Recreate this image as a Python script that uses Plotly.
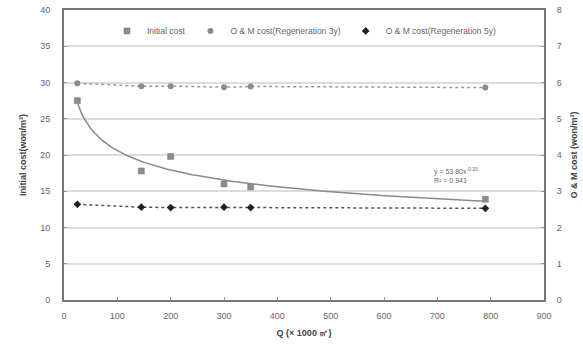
import numpy as np
import plotly.graph_objects as go

q = [25, 145, 200, 300, 350, 790]
initial_cost = [27.5, 17.8, 19.8, 16.0, 15.6, 13.9]
om_3y = [5.98, 5.9, 5.9, 5.87, 5.89, 5.86]
om_5y = [2.64, 2.56, 2.55, 2.56, 2.55, 2.53]

# power-law trendline fitted to initial cost data (log-log regression)
b, loga = np.polyfit(np.log(q), np.log(initial_cost), 1)
a = np.exp(loga)
xt = np.linspace(min(q), max(q), 200)
yt = a * xt ** b

grey_txt = "#666666"
sq = dict(symbol="square", size=6, color="#8c8c8c", line=dict(color="#777777", width=0.5))
ci = dict(symbol="circle", size=6, color="#8c8c8c")
di = dict(symbol="diamond", size=6, color="#222222")

fig = go.Figure()
fig.add_trace(go.Scatter(x=q, y=initial_cost, mode="markers", showlegend=False, marker=sq))
fig.add_trace(go.Scatter(x=q, y=om_3y, mode="lines+markers", showlegend=False,
                         yaxis="y2", line=dict(color="#9a9a9a", width=1.5, dash="dot"), marker=ci))
fig.add_trace(go.Scatter(x=q, y=om_5y, mode="lines+markers", showlegend=False,
                         yaxis="y2", line=dict(color="#555555", width=1.5, dash="dot"), marker=di))
fig.add_trace(go.Scatter(x=xt, y=yt, mode="lines", showlegend=False,
                         line=dict(color="#8a8a8a", width=1.5)))
# legend entries (marker only, as in the reference)
for nm, mk in [("Initial cost", sq), ("O & M cost(Regeneration 3y)", ci),
               ("O & M cost(Regeneration 5y)", di)]:
    fig.add_trace(go.Scatter(x=[None], y=[None], mode="markers", name=nm, marker=mk))

fig.add_annotation(x=780, y=17.2, xref="x", yref="y", showarrow=False,
                   text="y = 53.80x<sup>-0.20</sup><br>R² = 0.941", align="left",
                   font=dict(size=7, color=grey_txt), xanchor="right", yanchor="middle")

fig.update_layout(
    width=583, height=344, margin=dict(l=64, r=39, t=10, b=44),
    paper_bgcolor="white", plot_bgcolor="white",
    font=dict(family="Liberation Sans, Arial", size=9, color=grey_txt),
    showlegend=True,
    legend=dict(orientation="h", x=0.5, xanchor="center", y=0.928, yanchor="middle",
                font=dict(size=8.5, color=grey_txt), bgcolor="rgba(0,0,0,0)",
                itemwidth=30, tracegroupgap=0),
    xaxis=dict(range=[0, 900], dtick=100, showgrid=False, zeroline=False, automargin=False,
               showline=True, linecolor="#777777", linewidth=2, mirror=True,
               ticks="inside", ticklen=3, tickcolor="#999999", ticklabelstandoff=6,
               title=dict(text="<b>Q (× 1000 ㎥)</b>", font=dict(size=9, color="#444444"), standoff=10),
               tickfont=dict(size=9, color=grey_txt)),
    yaxis=dict(range=[0, 40], dtick=5, showgrid=True, gridcolor="#dddddd", gridwidth=1.5,
               zeroline=False, showline=True, linecolor="#777777", linewidth=2, automargin=False,
               ticks="inside", ticklen=3, tickcolor="#999999", ticklabelstandoff=10,
               title=dict(text="<b>Initial cost(won/m³)</b>", font=dict(size=9, color="#444444"), standoff=12),
               tickfont=dict(size=9, color=grey_txt)),
    yaxis2=dict(range=[0, 8], dtick=1, overlaying="y", side="right", showgrid=False,
                zeroline=False, showline=True, linecolor="#777777", linewidth=2, automargin=False,
                ticks="inside", ticklen=3, tickcolor="#999999", ticklabelstandoff=9,
                title=dict(text="<b>O & M cost (won/m³)</b>", font=dict(size=9, color="#444444"), standoff=10),
                tickfont=dict(size=9, color=grey_txt)),
)

fig.write_html("out.html")
